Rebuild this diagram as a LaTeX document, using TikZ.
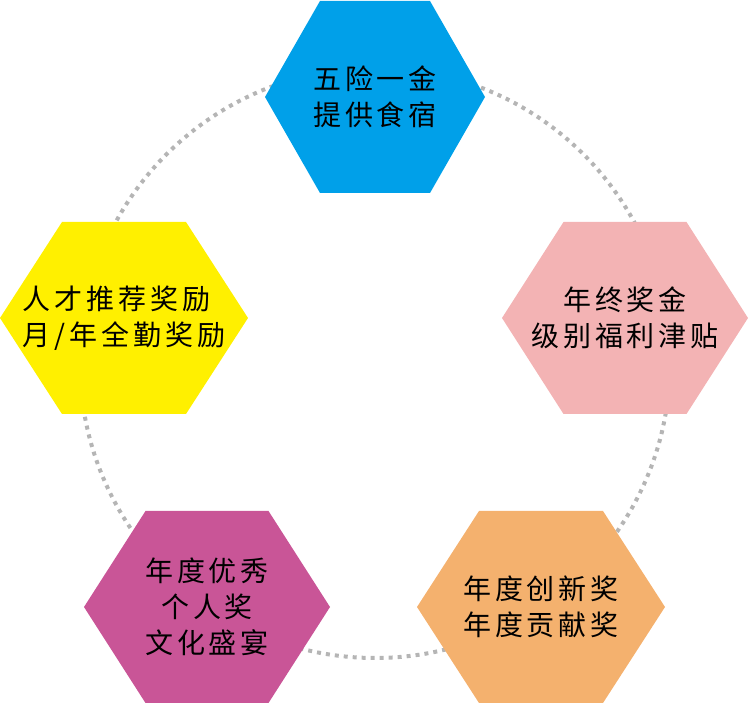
\documentclass[tikz,border=0pt]{standalone}
\usepackage{fontspec}
\usepackage{xcolor}
\usepackage{tikz}
\usetikzlibrary{calc}
\newfontfamily\cjk[LetterSpace=14]{Noto Sans CJK SC}
\definecolor{hexblue}{HTML}{00A0E9}
\definecolor{hexpink}{HTML}{F3B3B4}
\definecolor{hexyellow}{HTML}{FFF000}
\definecolor{hexmagenta}{HTML}{C95597}
\definecolor{hexorange}{HTML}{F4B16E}
\definecolor{dotgray}{HTML}{B5B5B5}

\tikzset{
  hexlabel/.style={align=center, font=\cjk\fontsize{28}{36}\selectfont, text=black, inner sep=0pt},
  ring/.style={dotgray, line width=4pt, dash pattern=on 4pt off 5pt}
}

% hexagon: centre, half width, colour
\newcommand{\hexfill}[3]{%
  \fill[#3] ($(#1)+(-#2,0)$) -- ++({#2/2},96) -- ++(#2,0) -- ++({#2/2},-96)
    -- ++({-#2/2},-96) -- ++(-#2,0) -- cycle;}

\begin{document}
\begin{tikzpicture}[x=1pt, y=1pt]
    \useasboundingbox (0,0) rectangle (750,704);
    \coordinate (hub) at (375,341);
    \draw[ring] (hub) circle[radius=295];

    \coordinate (insurance) at (375,607);
    \coordinate (bonus) at (625,386);
    \coordinate (referral) at (124,386);
    \coordinate (honour) at (207,97);
    \coordinate (innovation) at (541,97);

    \hexfill{insurance}{110}{hexblue}
    \hexfill{bonus}{123}{hexpink}
    \hexfill{referral}{124}{hexyellow}
    \hexfill{honour}{123}{hexmagenta}
    \hexfill{innovation}{124}{hexorange}

    \node[hexlabel] (insurancetext) at (insurance) {五险一金\\提供食宿};
    \node[hexlabel] (bonustext) at (bonus) {年终奖金\\级别福利津贴};
    \node[hexlabel, align=left] (referraltext) at (referral) {人才推荐奖励\\月/年全勤奖励};
    \node[hexlabel] (honourtext) at (honour) {年度优秀\\个人奖\\文化盛宴};
    \node[hexlabel] (innovationtext) at (innovation) {年度创新奖\\年度贡献奖};
\end{tikzpicture}
\end{document}
